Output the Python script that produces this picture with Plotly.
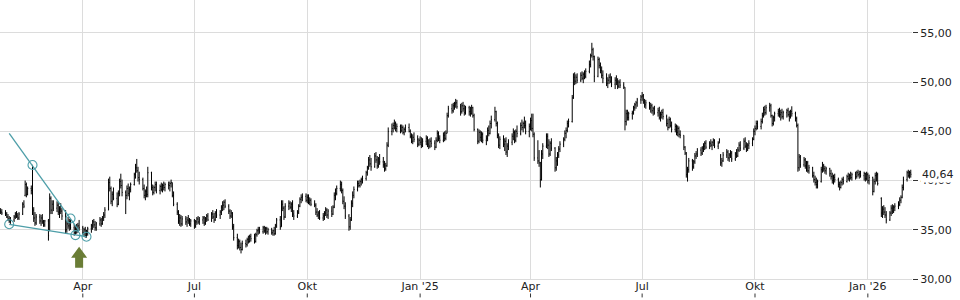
import pandas as pd
import plotly.graph_objects as go

# ---------------- daily OHLC, one row per trading week (Mon..Fri) ----------------
opens = [
    36.9, 36.8,
    36.7, 36.6, 36.3, 36.1, 35.9,
    36.0, 36.3, 36.6, 36.4, 36.2,
    36.6, 37.6, 38.5, 39.6, 38.6,
    39.2, 39.0, 37.0, 36.2, 35.7,
    36.3, 35.9, 36.2, 35.8, 35.5,
    35.9, 34.9, 38.2, 37.0, 37.6,
    37.2, 37.5, 36.8, 37.1, 36.9,
    36.4, 35.0, 35.6, 35.4, 35.8,
    35.2, 34.7, 35.1, 34.9, 35.4,
    35.2, 34.7, 35.0, 34.4, 34.8,
    35.1, 35.4, 35.8, 35.5, 35.2,
    35.6, 36.0, 35.6, 36.2, 36.5,
    37.0, 39.8, 39.2, 37.9, 38.6,
    38.2, 37.6, 38.7, 39.9, 39.5,
    38.8, 38.5, 39.2, 38.7, 39.1,
    39.6, 40.6, 41.3, 41.0, 40.3,
    40.1, 39.2, 38.5, 38.9, 38.6,
    40.8, 39.3, 38.8, 39.3, 39.6,
    39.0, 39.4, 39.1, 39.5, 39.3,
    39.6, 39.5, 39.7, 39.8, 38.5,
    37.6, 36.8, 35.9, 36.2, 35.6,
    36.1, 35.8, 36.0, 35.9, 35.6,
    35.9, 35.4, 35.8, 36.1, 35.8,
    36.0, 36.2, 35.7, 36.1, 36.4,
    36.0, 36.6, 36.3, 36.0, 36.7,
    36.5, 36.8, 37.3, 37.5, 37.8,
    37.4, 36.9, 36.4, 36.7, 35.3,
    34.2, 33.4, 33.8, 33.2, 33.0,
    33.6, 33.5, 34.0, 33.8, 34.3,
    34.1, 33.8, 34.5, 34.9, 35.0,
    34.8, 35.2, 34.9, 35.1, 34.8,
    35.0, 34.7, 34.9, 34.6, 35.4,
    36.0, 35.3, 37.6, 37.2, 36.3,
    37.4, 37.7, 37.3, 37.6, 36.6,
    36.4, 36.8, 37.4, 38.1, 38.3,
    38.4, 38.0, 38.3, 37.8, 38.0,
    37.6, 37.5, 36.8, 36.5, 36.7,
    36.2, 36.4, 36.7, 37.0, 36.5,
    36.9, 36.6, 37.3, 38.5, 38.7,
    39.2, 39.6, 39.0, 37.9, 37.4,
    36.4, 35.3, 36.0, 37.7, 38.5,
    39.1, 39.7, 39.5, 39.9, 40.1,
    40.2, 40.8, 41.3, 42.1, 41.7,
    41.4, 42.5, 42.1, 41.5, 42.2,
    41.9, 41.6, 41.2, 41.5, 43.6,
    45.0, 45.3, 45.6, 45.8, 45.3,
    45.5, 45.1, 45.4, 44.9, 45.2,
    45.4, 45.0, 44.5, 44.0, 44.4,
    44.2, 43.7, 44.1, 43.9, 43.6,
    44.0, 44.3, 43.7, 43.5, 44.0,
    43.8, 43.4, 44.1, 44.8, 44.3,
    44.1, 44.6, 44.3, 44.8, 46.6,
    47.3, 47.1, 47.6, 47.8, 47.9,
    47.5, 47.0, 47.6, 47.3, 46.9,
    47.4, 47.0, 46.8, 47.4, 46.6,
    45.2, 44.0, 44.9, 44.4, 44.7,
    44.1, 44.3, 45.1, 44.8, 45.8,
    46.2, 47.0, 45.8, 44.6, 43.6,
    44.2, 43.7, 44.0, 42.9, 43.5,
    43.9, 44.5, 44.9, 44.1, 45.0,
    44.8, 45.6, 45.4, 45.8, 45.6,
    45.0, 45.5, 46.1, 45.3, 44.7,
    42.3, 42.0, 41.8, 40.1, 42.7,
    43.5, 44.5, 43.6, 42.7, 43.8,
    43.3, 41.3, 42.0, 42.6, 43.2,
    43.7, 44.2, 44.8, 45.1, 45.8,
    46.0, 48.4, 50.5, 50.1, 50.5,
    50.2, 50.7, 50.4, 50.8, 50.6,
    51.1, 51.8, 52.7, 53.3, 52.6,
    50.6, 52.3, 51.7, 51.2, 50.7,
    50.4, 49.9, 50.2, 50.5, 50.1,
    49.8, 50.2, 50.0, 49.6, 50.0,
    49.7, 49.5, 46.0, 46.8, 46.4,
    46.8, 46.9, 47.4, 47.7, 47.9,
    48.2, 48.5, 48.6, 48.0, 47.7,
    47.9, 47.4, 47.6, 47.1, 47.3,
    46.9, 47.1, 46.4, 46.7, 46.9,
    46.5, 45.8, 45.4, 46.2, 45.6,
    45.2, 45.5, 44.9, 45.3, 44.7,
    44.6, 43.4, 42.8, 40.6, 41.1,
    42.0, 41.4, 41.9, 42.5, 42.7,
    43.1, 42.8, 43.3, 43.5, 43.8,
    43.4, 43.8, 43.6, 43.9, 44.1,
    43.5, 43.8, 42.5, 41.8, 42.0,
    42.6, 42.9, 42.3, 42.6, 42.8,
    42.2, 42.7, 42.5, 43.1, 43.6,
    43.3, 44.0, 43.5, 43.2, 43.6,
    43.8, 44.2, 45.0, 45.3, 45.8,
    45.5, 46.0, 46.6, 47.2, 46.9,
    47.4, 47.6, 46.6, 45.8, 46.4,
    46.8, 47.0, 46.7, 46.9, 46.5,
    46.9, 47.1, 46.7, 46.5, 47.0,
    46.8, 46.3, 45.6, 41.3, 42.4,
    41.6, 42.1, 41.5, 41.8, 41.0,
    41.3, 40.5, 40.1, 39.8, 39.6,
    39.9, 41.1, 41.5, 41.2, 41.0,
    41.2, 40.7, 40.4, 40.0, 40.3,
    40.1, 39.6, 39.3, 39.8, 40.1,
    39.9, 40.4, 40.2, 40.5, 40.3,
    40.6, 40.4, 40.8, 40.6, 40.7,
    40.5, 40.7, 40.2, 40.6, 40.0,
    40.3, 38.9, 39.9, 40.5, 40.6,
    38.2, 36.7, 37.1, 36.8, 36.5,
    36.0, 36.7, 37.2, 36.9, 37.3,
    37.4, 37.6, 38.0, 38.3, 39.3,
    40.1, 40.8, 40.5, 40.8,
]

highs = [
    37.2, 37.1,
    37.0, 36.8, 36.6, 36.4, 36.3,
    36.5, 36.8, 36.9, 36.7, 36.8,
    37.8, 38.0, 40.0, 39.8, 39.4,
    39.5, 41.6, 37.3, 36.8, 36.6,
    36.6, 36.5, 36.6, 36.0, 36.0,
    36.1, 38.7, 38.4, 38.0, 38.0,
    37.9, 37.8, 37.4, 37.7, 37.2,
    37.0, 35.9, 36.3, 36.1, 36.1,
    35.6, 35.4, 35.6, 35.7, 36.0,
    35.4, 35.2, 35.3, 35.0, 35.3,
    35.6, 36.0, 36.1, 35.9, 35.8,
    36.3, 36.2, 36.4, 36.8, 37.3,
    40.2, 40.4, 39.4, 38.9, 39.3,
    38.8, 39.0, 40.2, 40.7, 40.1,
    39.0, 39.5, 39.7, 39.4, 39.8,
    40.8, 41.7, 42.2, 41.4, 40.9,
    40.3, 39.6, 39.1, 39.4, 41.4,
    40.9, 39.6, 39.5, 39.9, 39.9,
    39.6, 39.8, 39.7, 39.9, 39.8,
    39.9, 39.9, 40.1, 39.8, 38.9,
    37.8, 37.0, 36.6, 36.5, 36.4,
    36.4, 36.3, 36.5, 36.2, 36.1,
    36.1, 36.0, 36.3, 36.4, 36.3,
    36.4, 36.4, 36.3, 36.6, 36.7,
    36.8, 37.0, 36.7, 36.9, 37.1,
    37.0, 37.5, 37.9, 38.0, 38.1,
    37.6, 37.1, 37.0, 36.8, 35.6,
    34.6, 34.1, 34.0, 33.7, 33.9,
    34.0, 34.2, 34.4, 34.5, 34.6,
    34.6, 34.7, 35.1, 35.3, 35.3,
    35.4, 35.4, 35.3, 35.3, 35.2,
    35.2, 35.0, 35.3, 35.6, 36.2,
    36.4, 38.0, 38.0, 37.4, 37.7,
    38.0, 37.9, 37.8, 38.0, 37.0,
    37.0, 37.6, 38.3, 38.6, 38.7,
    38.7, 38.6, 38.6, 38.3, 38.2,
    38.0, 37.7, 37.2, 36.9, 37.0,
    36.7, 36.9, 37.3, 37.2, 37.1,
    37.4, 37.5, 38.8, 39.2, 39.5,
    40.0, 39.9, 39.2, 38.4, 37.8,
    36.6, 36.3, 38.0, 38.9, 39.4,
    40.0, 40.0, 40.1, 40.3, 40.5,
    41.0, 41.5, 42.4, 42.6, 42.3,
    42.8, 42.9, 42.5, 42.4, 42.7,
    42.4, 42.0, 41.8, 43.9, 45.4,
    45.8, 45.9, 46.2, 46.0, 45.8,
    45.7, 45.7, 45.6, 45.4, 45.7,
    45.8, 45.2, 44.8, 44.7, 44.9,
    44.6, 44.3, 44.5, 44.4, 44.3,
    44.6, 44.5, 44.2, 44.3, 44.4,
    44.1, 44.4, 45.1, 45.0, 44.6,
    44.9, 45.0, 45.1, 46.9, 47.6,
    47.8, 47.9, 48.0, 48.3, 48.2,
    47.8, 47.9, 48.0, 47.7, 47.6,
    47.6, 47.5, 47.7, 47.5, 46.8,
    45.3, 45.2, 45.1, 45.0, 44.9,
    44.6, 45.4, 45.6, 46.1, 46.6,
    47.5, 47.1, 46.0, 44.8, 44.5,
    44.6, 44.3, 44.4, 43.8, 44.2,
    44.8, 45.3, 45.1, 45.2, 45.6,
    45.9, 46.2, 46.0, 46.5, 46.1,
    45.8, 46.4, 46.8, 46.8, 44.9,
    44.1, 43.1, 41.9, 43.1, 43.8,
    44.8, 44.8, 44.2, 44.0, 44.3,
    43.4, 42.4, 42.9, 43.5, 44.0,
    44.4, 45.1, 45.4, 46.1, 46.3,
    48.7, 50.9, 51.0, 50.8, 50.9,
    51.0, 51.1, 51.0, 51.2, 51.4,
    52.2, 52.9, 54.0, 53.5, 52.7,
    52.6, 52.5, 52.0, 51.6, 51.2,
    50.9, 50.5, 50.8, 50.9, 50.6,
    50.5, 50.7, 50.4, 50.2, 50.3,
    50.0, 49.5, 47.2, 47.2, 47.0,
    47.1, 47.6, 47.9, 48.1, 48.4,
    48.7, 49.0, 48.8, 48.3, 48.2,
    48.0, 47.9, 47.8, 47.5, 47.6,
    47.4, 47.5, 47.0, 47.2, 47.3,
    46.7, 46.3, 46.5, 46.4, 46.0,
    45.8, 45.7, 45.6, 45.5, 45.1,
    44.6, 43.5, 42.9, 41.4, 42.3,
    42.2, 42.1, 42.8, 43.0, 43.3,
    43.4, 43.5, 43.8, 44.0, 44.1,
    44.0, 44.2, 44.0, 44.3, 44.2,
    44.0, 44.3, 42.7, 42.3, 42.9,
    43.2, 43.1, 42.8, 43.1, 43.0,
    42.9, 43.2, 43.4, 43.9, 44.0,
    44.3, 44.4, 43.9, 43.8, 44.1,
    44.4, 45.3, 45.6, 46.1, 46.1,
    46.3, 46.9, 47.5, 47.6, 47.7,
    47.9, 47.8, 46.7, 46.6, 47.0,
    47.3, 47.4, 47.2, 47.3, 47.1,
    47.3, 47.4, 47.1, 47.2, 47.55,
    47.0, 46.5, 45.8, 42.7, 42.6,
    42.4, 42.3, 42.0, 42.0, 41.6,
    41.4, 40.9, 40.5, 40.3, 40.1,
    41.4, 41.9, 41.7, 41.5, 41.4,
    41.3, 41.1, 40.8, 40.6, 40.7,
    40.3, 39.9, 40.0, 40.3, 40.4,
    40.6, 40.8, 40.7, 40.9, 40.8,
    40.9, 41.0, 41.1, 41.0, 41.0,
    40.9, 40.8, 40.9, 40.8, 40.6,
    40.4, 40.2, 40.8, 40.9, 40.8,
    38.3, 37.4, 37.5, 37.3, 36.9,
    36.9, 37.5, 37.6, 37.5, 37.7,
    37.9, 38.3, 38.5, 39.6, 40.4,
    41.0, 41.1, 41.0, 41.1,
]

lows = [
    36.6, 36.5,
    36.4, 36.2, 35.9, 35.7, 35.6,
    35.8, 36.1, 36.2, 36.0, 36.0,
    36.5, 37.2, 38.4, 38.3, 38.5,
    38.6, 36.5, 35.8, 35.4, 35.5,
    35.6, 35.4, 35.6, 35.3, 35.3,
    33.9, 34.9, 36.6, 36.6, 36.9,
    36.8, 36.5, 36.2, 36.6, 36.0,
    34.6, 34.7, 35.1, 34.9, 35.0,
    34.4, 34.5, 34.6, 34.7, 34.9,
    34.5, 34.3, 34.2, 34.2, 34.4,
    34.7, 35.0, 35.2, 34.9, 34.9,
    35.4, 35.3, 35.5, 35.9, 36.2,
    37.0, 38.9, 37.6, 37.4, 38.0,
    37.3, 37.5, 38.4, 39.2, 38.4,
    36.6, 38.1, 38.4, 38.0, 38.8,
    39.5, 40.2, 40.8, 39.9, 39.6,
    39.0, 38.2, 38.0, 38.3, 38.3,
    39.0, 38.5, 38.6, 38.9, 38.7,
    38.6, 38.9, 38.8, 39.0, 38.9,
    39.1, 38.9, 39.3, 38.3, 37.4,
    36.5, 35.6, 35.4, 35.3, 35.4,
    35.5, 35.3, 35.6, 35.4, 35.3,
    35.1, 35.2, 35.5, 35.6, 35.5,
    35.6, 35.4, 35.5, 35.8, 35.9,
    35.8, 36.1, 35.7, 35.9, 36.2,
    36.1, 36.5, 36.9, 37.0, 37.2,
    36.6, 36.1, 36.2, 35.0, 33.9,
    33.0, 33.1, 32.9, 32.6, 32.9,
    33.2, 33.3, 33.6, 33.7, 33.8,
    33.6, 33.7, 34.3, 34.5, 34.6,
    34.6, 34.7, 34.5, 34.6, 34.5,
    34.5, 34.4, 34.4, 34.5, 35.2,
    35.0, 35.3, 36.9, 36.0, 36.2,
    37.0, 37.1, 36.8, 36.3, 36.0,
    36.2, 36.6, 37.3, 37.7, 37.9,
    37.8, 37.7, 37.6, 37.5, 37.4,
    37.3, 36.5, 36.3, 36.1, 36.0,
    35.9, 36.0, 36.4, 36.2, 36.1,
    36.3, 36.5, 37.2, 38.0, 38.5,
    38.9, 38.7, 37.6, 37.1, 36.1,
    34.9, 35.0, 35.9, 37.3, 38.2,
    38.9, 39.3, 39.3, 39.5, 39.7,
    40.0, 40.5, 41.1, 41.4, 41.0,
    41.3, 41.8, 41.2, 41.3, 41.6,
    41.3, 40.9, 41.0, 41.4, 43.4,
    44.6, 44.9, 45.2, 45.0, 44.9,
    44.8, 44.9, 44.7, 44.6, 44.9,
    44.9, 44.3, 43.8, 43.7, 43.9,
    43.4, 43.5, 43.6, 43.3, 43.4,
    43.6, 43.4, 43.2, 43.3, 43.4,
    43.1, 43.3, 43.9, 44.0, 43.8,
    43.9, 44.0, 44.1, 44.8, 46.4,
    46.8, 46.9, 47.2, 47.4, 47.3,
    46.6, 46.8, 47.0, 46.6, 46.7,
    46.6, 46.5, 46.7, 46.4, 45.0,
    43.7, 43.8, 44.0, 43.9, 43.8,
    43.6, 44.0, 44.5, 44.7, 45.3,
    46.0, 45.5, 44.3, 43.3, 43.2,
    43.4, 43.0, 42.6, 42.4, 43.1,
    43.6, 44.1, 43.8, 43.9, 44.4,
    44.6, 45.1, 44.9, 45.3, 44.7,
    44.4, 45.1, 45.0, 44.4, 42.0,
    41.7, 41.4, 39.3, 40.0, 42.2,
    43.3, 43.2, 42.4, 42.5, 43.0,
    40.9, 41.0, 41.5, 42.3, 42.9,
    43.4, 44.0, 44.3, 44.9, 45.4,
    45.9, 48.3, 49.7, 49.8, 49.9,
    50.0, 50.2, 49.9, 50.3, 50.4,
    50.9, 51.5, 52.5, 52.2, 50.0,
    50.5, 51.4, 50.9, 50.4, 49.9,
    49.6, 49.4, 49.8, 49.9, 49.5,
    49.3, 49.7, 49.3, 49.4, 49.4,
    49.3, 45.1, 45.6, 46.1, 46.1,
    46.2, 46.7, 47.1, 47.3, 47.5,
    47.8, 48.1, 47.8, 47.4, 47.3,
    47.2, 46.9, 46.8, 46.6, 46.7,
    46.5, 46.2, 46.0, 46.3, 46.2,
    45.5, 45.1, 45.3, 45.4, 44.9,
    44.9, 44.6, 44.5, 44.4, 44.3,
    43.1, 42.6, 40.3, 39.9, 40.8,
    41.0, 41.2, 41.7, 42.2, 42.4,
    42.5, 42.6, 42.9, 43.1, 43.2,
    43.2, 43.4, 43.1, 43.5, 43.3,
    43.2, 43.8, 41.5, 41.4, 41.9,
    42.3, 42.0, 41.9, 42.3, 41.9,
    42.0, 42.3, 42.4, 42.9, 43.0,
    43.1, 43.3, 42.9, 43.0, 43.2,
    43.5, 44.1, 44.6, 45.1, 45.2,
    45.2, 45.8, 46.4, 46.6, 46.7,
    47.0, 46.4, 45.5, 45.6, 46.0,
    46.5, 46.4, 46.1, 46.3, 46.2,
    46.4, 46.5, 46.0, 46.3, 46.5,
    46.0, 45.4, 40.9, 41.0, 41.3,
    41.4, 41.2, 40.9, 40.8, 40.7,
    40.3, 39.8, 39.5, 39.2, 39.2,
    39.8, 40.8, 40.9, 40.7, 40.6,
    40.4, 40.1, 39.7, 39.6, 39.8,
    39.3, 39.0, 39.2, 39.5, 39.6,
    39.8, 40.0, 39.9, 40.1, 40.0,
    40.1, 40.2, 40.4, 40.2, 40.3,
    40.0, 39.9, 40.0, 39.7, 39.6,
    38.5, 38.8, 39.6, 39.9, 39.5,
    36.3, 36.2, 36.5, 36.2, 35.65,
    35.9, 36.4, 36.6, 36.7, 36.9,
    37.1, 37.4, 37.7, 38.2, 39.0,
    39.9, 40.3, 40.2, 40.3,
]

closes = [
    36.8, 36.7,
    36.6, 36.3, 36.1, 35.9, 36.0,
    36.3, 36.6, 36.4, 36.2, 36.6,
    37.6, 37.4, 39.6, 38.6, 39.2,
    39.0, 37.0, 36.2, 35.7, 36.3,
    35.9, 36.2, 35.8, 35.5, 35.9,
    34.4, 38.2, 37.0, 37.6, 37.2,
    37.5, 36.8, 37.1, 36.9, 36.4,
    35.0, 35.6, 35.4, 35.8, 35.2,
    34.7, 35.1, 34.9, 35.4, 35.2,
    34.7, 35.0, 34.4, 34.8, 35.1,
    35.4, 35.8, 35.5, 35.2, 35.6,
    36.0, 35.6, 36.2, 36.5, 37.0,
    39.8, 39.2, 37.9, 38.6, 38.2,
    37.6, 38.7, 39.9, 39.5, 38.8,
    38.5, 39.2, 38.7, 39.1, 39.6,
    40.6, 41.3, 41.0, 40.3, 40.1,
    39.2, 38.5, 38.9, 38.6, 40.8,
    39.3, 38.8, 39.3, 39.6, 39.0,
    39.4, 39.1, 39.5, 39.3, 39.6,
    39.5, 39.7, 39.8, 38.5, 37.6,
    36.8, 35.9, 36.2, 35.6, 36.1,
    35.8, 36.0, 35.9, 35.6, 35.9,
    35.4, 35.8, 36.1, 35.8, 36.0,
    36.2, 35.7, 36.1, 36.4, 36.0,
    36.6, 36.3, 36.0, 36.7, 36.5,
    36.8, 37.3, 37.5, 37.8, 37.4,
    36.9, 36.4, 36.7, 35.3, 34.2,
    33.4, 33.8, 33.2, 33.0, 33.6,
    33.5, 34.0, 33.8, 34.3, 34.1,
    33.8, 34.5, 34.9, 35.0, 34.8,
    35.2, 34.9, 35.1, 34.8, 35.0,
    34.7, 34.9, 34.6, 35.4, 36.0,
    35.3, 37.6, 37.2, 36.3, 37.4,
    37.7, 37.3, 37.6, 36.6, 36.4,
    36.8, 37.4, 38.1, 38.3, 38.4,
    38.0, 38.3, 37.8, 38.0, 37.6,
    37.5, 36.8, 36.5, 36.7, 36.2,
    36.4, 36.7, 37.0, 36.5, 36.9,
    36.6, 37.3, 38.5, 38.7, 39.2,
    39.6, 39.0, 37.9, 37.4, 36.4,
    35.3, 36.0, 37.7, 38.5, 39.1,
    39.7, 39.5, 39.9, 40.1, 40.2,
    40.8, 41.3, 42.1, 41.7, 41.4,
    42.5, 42.1, 41.5, 42.2, 41.9,
    41.6, 41.2, 41.5, 43.6, 45.0,
    45.3, 45.6, 45.8, 45.3, 45.5,
    45.1, 45.4, 44.9, 45.2, 45.4,
    45.0, 44.5, 44.0, 44.4, 44.2,
    43.7, 44.1, 43.9, 43.6, 44.0,
    44.3, 43.7, 43.5, 44.0, 43.8,
    43.4, 44.1, 44.8, 44.3, 44.1,
    44.6, 44.3, 44.8, 46.6, 47.3,
    47.1, 47.6, 47.8, 47.9, 47.5,
    47.0, 47.6, 47.3, 46.9, 47.4,
    47.0, 46.8, 47.4, 46.6, 45.2,
    44.0, 44.9, 44.4, 44.7, 44.1,
    44.3, 45.1, 44.8, 45.8, 46.2,
    47.0, 45.8, 44.6, 43.6, 44.2,
    43.7, 44.0, 42.9, 43.5, 43.9,
    44.5, 44.9, 44.1, 45.0, 44.8,
    45.6, 45.4, 45.8, 45.6, 45.0,
    45.5, 46.1, 45.3, 44.7, 42.3,
    42.0, 41.8, 40.1, 42.7, 43.5,
    44.5, 43.6, 42.7, 43.8, 43.3,
    41.3, 42.0, 42.6, 43.2, 43.7,
    44.2, 44.8, 45.1, 45.8, 46.0,
    48.4, 50.5, 50.1, 50.5, 50.2,
    50.7, 50.4, 50.8, 50.6, 51.1,
    51.8, 52.7, 53.3, 52.6, 50.6,
    52.3, 51.7, 51.2, 50.7, 50.4,
    49.9, 50.2, 50.5, 50.1, 49.8,
    50.2, 50.0, 49.6, 50.0, 49.7,
    49.5, 46.0, 46.8, 46.4, 46.8,
    46.9, 47.4, 47.7, 47.9, 48.2,
    48.5, 48.6, 48.0, 47.7, 47.9,
    47.4, 47.6, 47.1, 47.3, 46.9,
    47.1, 46.4, 46.7, 46.9, 46.5,
    45.8, 45.4, 46.2, 45.6, 45.2,
    45.5, 44.9, 45.3, 44.7, 44.6,
    43.4, 42.8, 40.6, 41.1, 42.0,
    41.4, 41.9, 42.5, 42.7, 43.1,
    42.8, 43.3, 43.5, 43.8, 43.4,
    43.8, 43.6, 43.9, 44.1, 43.5,
    43.8, 44.1, 41.8, 42.0, 42.6,
    42.9, 42.3, 42.6, 42.8, 42.2,
    42.7, 42.5, 43.1, 43.6, 43.3,
    44.0, 43.5, 43.2, 43.6, 43.8,
    44.2, 45.0, 45.3, 45.8, 45.5,
    46.0, 46.6, 47.2, 46.9, 47.4,
    47.6, 46.6, 45.8, 46.4, 46.8,
    47.0, 46.7, 46.9, 46.5, 46.9,
    47.1, 46.7, 46.5, 47.0, 46.8,
    46.3, 45.6, 41.3, 42.4, 41.6,
    42.1, 41.5, 41.8, 41.0, 41.3,
    40.5, 40.1, 39.8, 39.6, 39.9,
    41.1, 41.5, 41.2, 41.0, 41.2,
    40.7, 40.4, 40.0, 40.3, 40.1,
    39.6, 39.3, 39.8, 40.1, 39.9,
    40.4, 40.2, 40.5, 40.3, 40.6,
    40.4, 40.8, 40.6, 40.7, 40.5,
    40.7, 40.2, 40.6, 40.0, 40.3,
    38.9, 39.9, 40.5, 40.6, 39.7,
    36.7, 37.1, 36.8, 36.5, 36.0,
    36.7, 37.2, 36.9, 37.3, 37.4,
    37.6, 38.0, 38.3, 39.3, 40.1,
    40.8, 40.5, 40.8, 40.64,
]

first_day = "2024-01-25"

# ---------------- pattern annotation (falling wedge) ----------------
upper_line_x = ["2024-02-01", "2024-03-29"]
upper_line_y = [44.8, 34.9]
upper_pts_x = ["2024-02-20", "2024-03-22"]
upper_pts_y = [41.58, 36.15]
lower_line_x = ["2024-02-01", "2024-04-04"]
lower_line_y = [35.56, 34.30]
lower_pts_x = ["2024-02-01", "2024-03-26", "2024-04-04"]
lower_pts_y = [35.56, 34.46, 34.30]
signal_date = "2024-03-29"
signal_level = 31.15

# ---------------- axes ----------------
x_tick_vals = ["2024-04-01", "2024-07-01", "2024-10-01", "2025-01-01",
               "2025-04-01", "2025-07-01", "2025-10-01", "2026-01-01"]
x_tick_text = ["Apr", "Jul", "Okt", "Jan '25", "Apr", "Jul", "Okt", "Jan '26"]
y_tick_vals = [30, 35, 40, 45, 50, 55]
y_tick_text = ["30,00", "35,00", "40,00", "45,00", "50,00", "55,00"]
last_label = "40,64"

n = min(len(opens), len(highs), len(lows), len(closes))
dates = pd.bdate_range(first_day, periods=n)

TEAL = "#4d9ea8"
OLIVE = "#6a7d36"
GRID = "#dcdcdc"
FONT = "DejaVu Sans"

fig = go.Figure()
fig.add_trace(go.Ohlc(
    x=dates, open=opens[:n], high=highs[:n], low=lows[:n], close=closes[:n],
    increasing=dict(line=dict(color="#000000", width=1)),
    decreasing=dict(line=dict(color="#000000", width=1)),
    tickwidth=0.5, hoverinfo="skip", showlegend=False,
))
for lx, ly in ((upper_line_x, upper_line_y), (lower_line_x, lower_line_y)):
    fig.add_trace(go.Scatter(x=lx, y=ly, mode="lines",
                             line=dict(color=TEAL, width=1.3),
                             hoverinfo="skip", showlegend=False))
fig.add_trace(go.Scatter(
    x=upper_pts_x + lower_pts_x, y=upper_pts_y + lower_pts_y, mode="markers",
    marker=dict(symbol="circle-open", size=9, color=TEAL, line=dict(width=1.1)),
    hoverinfo="skip", showlegend=False))

# up arrow (pixel-sized, anchored at the signal date)
fig.add_shape(type="path", xref="x", yref="y",
              xsizemode="pixel", ysizemode="pixel",
              xanchor=signal_date, yanchor=signal_level,
              path="M -4 0 L 4 0 L 4 10 L 8 10 L 0 21 L -8 10 L -4 10 Z",
              fillcolor=OLIVE, line=dict(width=0))

# small tick marks under the x labels
for tv in x_tick_vals:
    fig.add_shape(type="line", xref="x", yref="paper",
                  x0=tv, x1=tv, y0=-0.052, y1=-0.066,
                  line=dict(color="#333333", width=1))

fig.add_annotation(xref="paper", yref="y", x=1, y=closes[n - 1],
                   text=last_label, showarrow=False, xanchor="left",
                   xshift=8, bgcolor="white", borderpad=1,
                   font=dict(family=FONT, size=11, color="#222222"))

fig.update_layout(
    width=960, height=300,
    margin=dict(l=0, r=48, t=0, b=21),
    paper_bgcolor="white", plot_bgcolor="white",
    font=dict(family=FONT, size=11, color="#222222"),
    showlegend=False,
)
fig.update_xaxes(
    type="date", range=["2024-01-24 12:00", "2026-02-06"],
    tickvals=x_tick_vals, ticktext=x_tick_text, ticks="",
    ticklabelstandoff=-3,
    showgrid=True, gridcolor=GRID, gridwidth=1,
    showline=True, linecolor=GRID, linewidth=1,
    rangeslider=dict(visible=False), zeroline=False,
    tickfont=dict(family=FONT, size=11, color="#222222"),
)
fig.update_yaxes(
    side="right", range=[30, 58.35],
    tickvals=y_tick_vals, ticktext=y_tick_text,
    ticks="outside", ticklen=5, tickcolor="#333333", tickwidth=1,
    showgrid=True, gridcolor=GRID, gridwidth=1,
    showline=False, zeroline=False,
    tickfont=dict(family=FONT, size=11, color="#222222"),
)

fig.write_html("out.html")
